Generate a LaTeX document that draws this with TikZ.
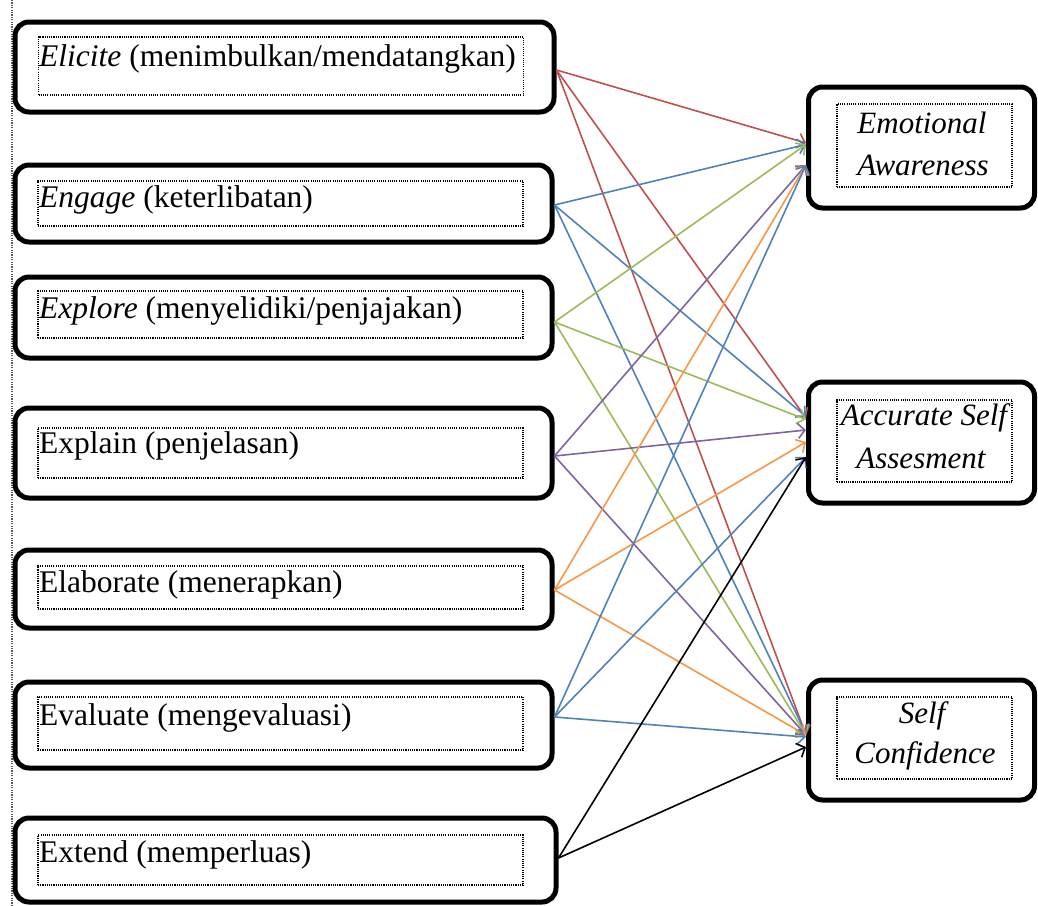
\documentclass[tikz,border=0pt]{standalone}
\usepackage{fontspec}
\setmainfont{Liberation Serif}
\usetikzlibrary{arrows.meta,calc}
\definecolor{cred}{HTML}{C0504D}
\definecolor{cblue}{HTML}{4F81BD}
\definecolor{cgreen}{HTML}{9BBB59}
\definecolor{cpurple}{HTML}{8064A2}
\definecolor{corange}{HTML}{F79646}
\begin{document}
\begin{tikzpicture}[x=1pt,y=-1pt,
  lbox/.style={draw, line width=5pt, rounded corners=14pt, inner sep=0pt, fill=white},
  dbox/.style={draw, line width=1.3pt, dash pattern=on 1.1pt off 1.1pt, inner sep=0pt},
  ltext/.style={anchor=base west, inner sep=0pt, font=\fontsize{31.5}{36}\selectfont},
  rtext/.style={anchor=base, inner sep=0pt, font=\fontsize{31}{36}\selectfont\itshape},
  arr/.style={line width=1.6pt, -{Straight Barb[length=7pt,width=15pt]}}]
\useasboundingbox (0,0) rectangle (1038,905);
% page margin line
\coordinate (mtop) at (12,0);
\coordinate (mbot) at (12,905);
\draw[line width=1.5pt, gray!70!black, dash pattern=on 1.2pt off 1.2pt] (mtop) -- (mbot);

% left boxes
\node[lbox, minimum width=539pt, minimum height=90pt] (l1) at (284.5,67) {};
\node[lbox, minimum width=537pt, minimum height=77pt] (l2) at (283.5,203.5) {};
\node[lbox, minimum width=537pt, minimum height=81pt] (l3) at (283.5,317.5) {};
\node[lbox, minimum width=537pt, minimum height=90pt] (l4) at (283.5,453) {};
\node[lbox, minimum width=537pt, minimum height=78pt] (l5) at (283.5,589) {};
\node[lbox, minimum width=537pt, minimum height=86pt] (l6) at (283.5,725) {};
\node[lbox, minimum width=541pt, minimum height=84pt] (l7) at (285.5,860) {};

\node[dbox, minimum width=485pt, minimum height=58pt] (d1) at (281,66) {};
\node[dbox, minimum width=485pt, minimum height=45pt] (d2) at (280.5,203.5) {};
\node[dbox, minimum width=485pt, minimum height=47pt] (d3) at (280.5,314.5) {};
\node[dbox, minimum width=485pt, minimum height=50pt] (d4) at (280.5,453) {};
\node[dbox, minimum width=485pt, minimum height=43pt] (d5) at (280.5,587.5) {};
\node[dbox, minimum width=485pt, minimum height=53pt] (d6) at (280.5,723.5) {};
\node[dbox, minimum width=485pt, minimum height=50pt] (d7) at (280.5,860) {};

\node[ltext] (t1) at (39,66) {\textit{Elicite} (menimbulkan/mendatangkan)};
\node[ltext] (t2) at (39,207) {\textit{Engage} (keterlibatan)};
\node[ltext] (t3) at (39,318) {\textit{Explore} (menyelidiki/penjajakan)};
\node[ltext] (t4) at (39,453) {Explain (penjelasan)};
\node[ltext] (t5) at (39,592) {Elaborate (menerapkan)};
\node[ltext] (t6) at (39,725) {Evaluate (mengevaluasi)};
\node[ltext] (t7) at (39,862) {Extend (memperluas)};

% right boxes
\node[lbox, minimum width=226pt, minimum height=121pt] (ea) at (921.5,147.5) {};
\node[lbox, minimum width=226pt, minimum height=121pt] (asa) at (921.5,442.5) {};
\node[lbox, minimum width=226pt, minimum height=120pt] (sc) at (921.5,740) {};

\node[dbox, minimum width=175pt, minimum height=83pt] (dea) at (924.5,145.5) {};
\node[dbox, minimum width=175pt, minimum height=82pt] (dasa) at (924.5,441) {};
\node[dbox, minimum width=175pt, minimum height=82pt] (dsc) at (924.5,738) {};

\node[rtext] (ea1) at (922,133) {Emotional};
\node[rtext] (ea2) at (923,175) {Awareness};
\node[rtext] (asa1) at (924,425) {Accurate Self};
\node[rtext] (asa2) at (921,468) {Assesment};
\node[rtext] (sc1) at (922,723) {Self};
\node[rtext] (sc2) at (925,763) {Confidence};

% connectors
\draw[arr, cred] ($(l1.east)+(0,3)$) -- ($(ea.west)+(0,-4.5)$);
\draw[arr, cred] ($(l1.east)+(0,3)$) -- ($(asa.west)+(0,-24.5)$);
\draw[arr, cred] ($(l1.east)+(0,3)$) -- ($(sc.west)+(0,-5)$);

\draw[arr, cblue] ($(l2.east)+(0,1.5)$) -- ($(ea.west)+(0,-3)$);
\draw[arr, cblue] ($(l2.east)+(0,1.5)$) -- ($(asa.west)+(0,-26)$);
\draw[arr, cblue] ($(l2.east)+(0,1.5)$) -- ($(sc.west)+(0,-6)$);

\draw[arr, cgreen] ($(l3.east)+(0,4.5)$) -- ($(ea.west)+(0,-3)$);
\draw[arr, cgreen] ($(l3.east)+(0,4.5)$) -- ($(asa.west)+(0,-23)$);
\draw[arr, cgreen] ($(l3.east)+(0,4.5)$) -- ($(sc.west)+(0,-5)$);

\draw[arr, cpurple] ($(l4.east)+(0,3)$) -- ($(ea.west)+(0,17.5)$);
\draw[arr, cpurple] ($(l4.east)+(0,3)$) -- ($(asa.west)+(0,-12.5)$);
\draw[arr, cpurple] ($(l4.east)+(0,3)$) -- ($(sc.west)+(0,-5)$);

\draw[arr, corange] ($(l5.east)+(0,1)$) -- ($(ea.west)+(0,17.5)$);
\draw[arr, corange] ($(l5.east)+(0,1)$) -- ($(asa.west)+(0,-0.5)$);
\draw[arr, corange] ($(l5.east)+(0,1)$) -- ($(sc.west)+(0,-5)$);

\draw[arr, cblue] ($(l6.east)+(0,-8)$) -- ($(ea.west)+(0,17.5)$);
\draw[arr, cblue] ($(l6.east)+(0,-8)$) -- ($(asa.west)+(0,14.5)$);
\draw[arr, cblue] ($(l6.east)+(0,-8)$) -- ($(sc.west)+(0,-3)$);

\draw[arr, black] ($(l7.east)+(0,-2)$) -- ($(asa.west)+(0,14.5)$);
\draw[arr, black] ($(l7.east)+(0,-2)$) -- ($(sc.west)+(0,7)$);
\end{tikzpicture}
\end{document}
